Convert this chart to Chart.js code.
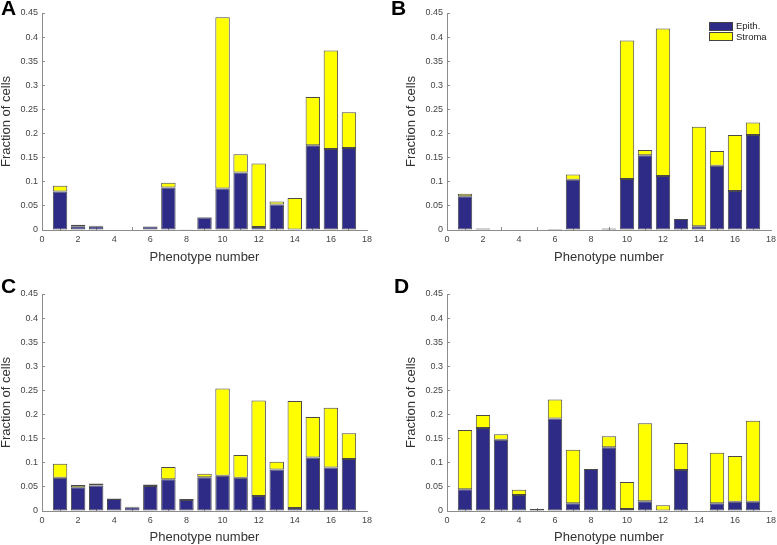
<!DOCTYPE html>
<html>
<head>
<meta charset="utf-8">
<script src="https://cdn.jsdelivr.net/npm/chart.js@4.4.1/dist/chart.umd.min.js"></script>
<style>
  body { margin: 0; background: #fff; width: 777px; height: 545px; position: relative; overflow: hidden; font-family: "Liberation Sans", Arial, sans-serif; }
  .panel { position: absolute; }
  .tag { position: absolute; font-weight: bold; font-size: 21px; line-height: 21px; color: #000; }
  .legend { position: absolute; left: 709px; top: 21px; font-size: 9.5px; color: #222; }
  .legend div { height: 10.5px; line-height: 10px; white-space: nowrap; }
  .legend span { display: inline-block; width: 22px; height: 7px; border: 1px solid #444; vertical-align: middle; margin-right: 3px; }
</style>
</head>
<body>
<canvas id="cA" class="panel" style="left:0;top:0" width="390" height="265"></canvas>
<canvas id="cB" class="panel" style="left:405px;top:0" width="372" height="265"></canvas>
<canvas id="cC" class="panel" style="left:0;top:272px" width="390" height="273"></canvas>
<canvas id="cD" class="panel" style="left:405px;top:272px" width="372" height="273"></canvas>
<div class="tag" style="left:1px;top:-3px">A</div>
<div class="tag" style="left:391px;top:-3px">B</div>
<div class="tag" style="left:1px;top:275px">C</div>
<div class="tag" style="left:394px;top:275px">D</div>
<div class="legend" id="legend"></div>
<script>
// phenotype numbers on the x axis
const phenotypes = [1, 2, 3, 4, 5, 6, 7, 8, 9, 10, 11, 12, 13, 14, 15, 16, 17];
const seriesNames = ['Epith.', 'Stroma'];
const seriesColors = ['#2e2b86', '#ffff00'];

// fraction of cells
const epithA  = [0.080, 0.008, 0.008, 0, 0, 0.007, 0.088, 0.001, 0.026, 0.086, 0.119, 0.006, 0.053, 0, 0.176, 0.168, 0.170];
const stromaA = [0.012, 0.003, 0.001, 0, 0, 0, 0.010, 0.0005, 0.001, 0.355, 0.038, 0.132, 0.006, 0.0665, 0.100, 0.204, 0.074];

const epithB  = [0.070, 0.002, 0, 0, 0, 0.001, 0.104, 0, 0.003, 0.106, 0.155, 0.112, 0.023, 0.008, 0.133, 0.081, 0.197];
const stromaB = [0.005, 0.001, 0, 0, 0, 0.001, 0.011, 0, 0, 0.287, 0.011, 0.306, 0, 0.206, 0.031, 0.116, 0.026];

const epithC  = [0.069, 0.049, 0.053, 0.025, 0.008, 0.052, 0.066, 0.023, 0.070, 0.073, 0.069, 0.031, 0.086, 0.006, 0.111, 0.090, 0.108];
const stromaC = [0.029, 0.005, 0.004, 0.001, 0.001, 0.003, 0.025, 0.002, 0.007, 0.181, 0.047, 0.198, 0.016, 0.222, 0.084, 0.124, 0.053];

const epithD  = [0.045, 0.172, 0.148, 0.033, 0.004, 0.192, 0.016, 0.087, 0.132, 0.004, 0.020, 0.001, 0.085, 0, 0.016, 0.019, 0.019];
const stromaD = [0.123, 0.027, 0.011, 0.011, 0, 0.039, 0.111, 0, 0.023, 0.056, 0.162, 0.011, 0.056, 0, 0.105, 0.095, 0.168];

const yTicks = { min: 0, max: 0.45, step: 0.05 };
const xTicks = { min: 0, max: 18, step: 2 };

const FONT = "'Liberation Sans', Arial, sans-serif";

function toPoints(vals) {
  return phenotypes.map((p, i) => ({ x: p, y: vals[i] }));
}

function makePanel(id, epith, stroma, pad) {
  const axisColor = '#8c8c8c';
  // negative tick length puts the little tick marks inside the axes, like the original
  const gridOpts = { display: true, drawOnChartArea: false, drawTicks: true, tickLength: -3, color: axisColor };
  return new Chart(document.getElementById(id), {
    type: 'bar',
    data: {
      datasets: [epith, stroma].map((vals, i) => ({
        label: seriesNames[i],
        data: toPoints(vals),
        backgroundColor: seriesColors[i],
        borderColor: '#4a4a4a',
        borderWidth: 1,
        borderSkipped: false,
        categoryPercentage: 1,
        barPercentage: 0.8,
      }))
    },
    options: {
      responsive: false,
      animation: false,
      layout: { padding: pad },
      plugins: { legend: { display: false }, tooltip: { enabled: false } },
      scales: {
        x: {
          type: 'linear',
          stacked: true,
          offset: false,
          min: xTicks.min, max: xTicks.max,
          afterFit: (s) => { s.height = pad.xh; s.paddingRight = 0; s.paddingLeft = 0; },
          grid: gridOpts,
          border: { color: axisColor },
          ticks: { stepSize: xTicks.step, padding: 7, color: '#444', font: { size: 9, family: FONT } },
          title: { display: true, text: 'Phenotype number', color: '#333', padding: { top: 0, bottom: 1.5 }, font: { size: 13, family: FONT, lineHeight: 1 } }
        },
        y: {
          stacked: true,
          min: yTicks.min, max: yTicks.max,
          afterFit: (s) => { s.width = 42; s.paddingTop = 0; s.paddingBottom = 0; },
          grid: gridOpts,
          border: { color: axisColor },
          ticks: {
            stepSize: yTicks.step, padding: 7, color: '#444', font: { size: 9, family: FONT },
            callback: (v) => String(Number(v.toFixed(2)))
          },
          title: { display: true, text: 'Fraction of cells', color: '#333', padding: { top: 0, bottom: 0 }, font: { size: 13, family: FONT, lineHeight: 1 } }
        }
      }
    }
  });
}

makePanel('cA', epithA, stromaA, { left: 0, right: 23, top: 13, bottom: 0, xh: 35 });
makePanel('cB', epithB, stromaB, { left: 0, right: 6, top: 13, bottom: 0, xh: 35 });
makePanel('cC', epithC, stromaC, { left: 0, right: 23, top: 22, bottom: 0, xh: 34 });
makePanel('cD', epithD, stromaD, { left: 0, right: 6, top: 22, bottom: 0, xh: 34 });

// legend inside panel B
const legendEl = document.getElementById('legend');
seriesNames.forEach((name, i) => {
  const row = document.createElement('div');
  const sw = document.createElement('span');
  sw.style.background = seriesColors[i];
  row.appendChild(sw);
  row.appendChild(document.createTextNode(name));
  legendEl.appendChild(row);
});
</script>
</body>
</html>
